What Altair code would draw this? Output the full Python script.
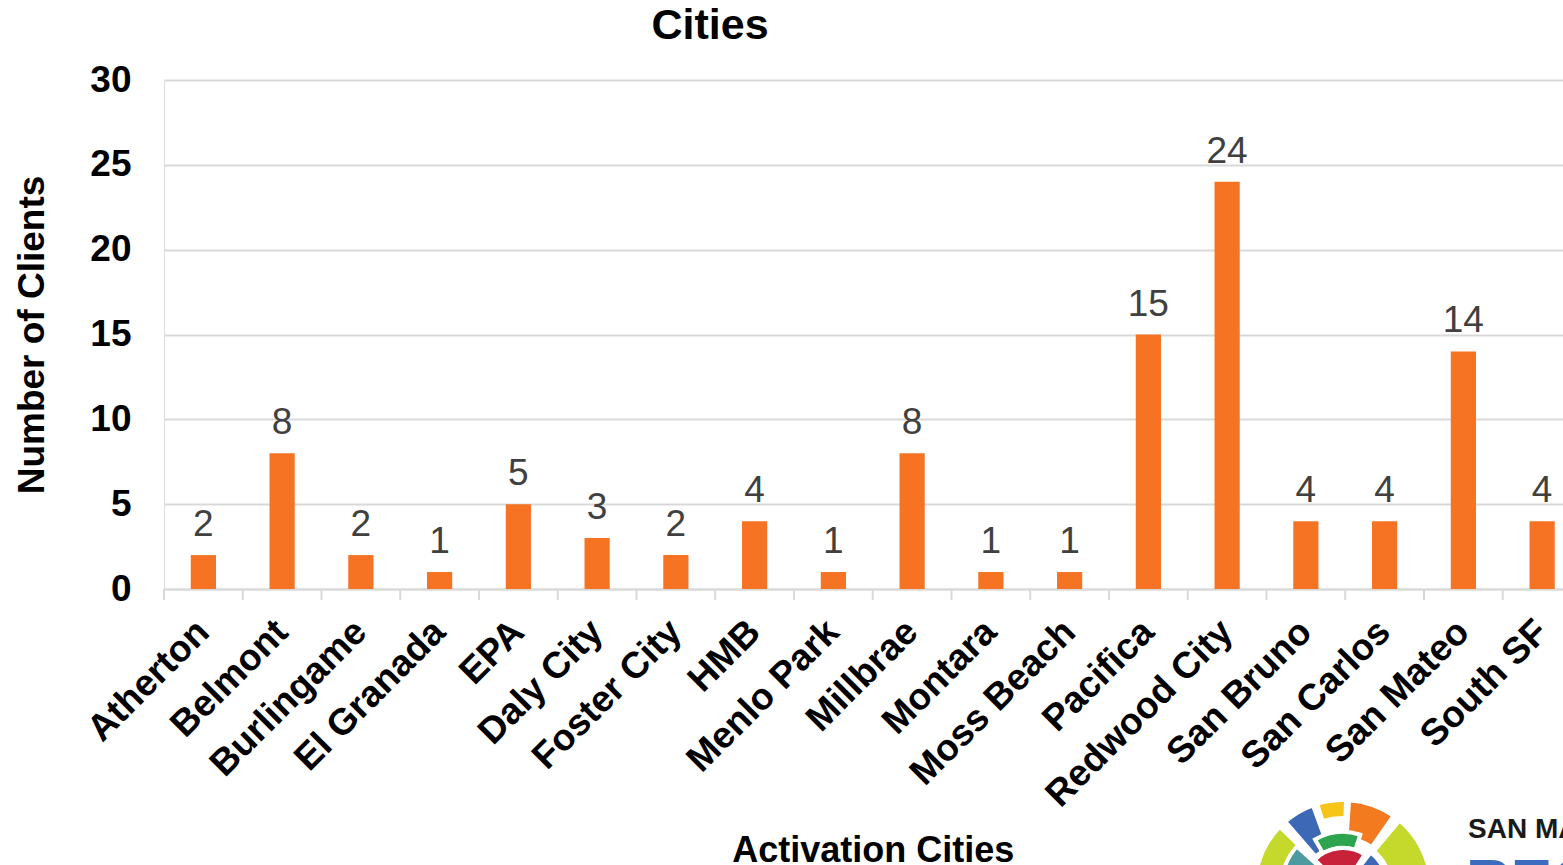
import altair as alt
import pandas as pd

# Clients per activation city
cities = ["Atherton", "Belmont", "Burlingame", "El Granada", "EPA", "Daly City",
          "Foster City", "HMB", "Menlo Park", "Millbrae", "Montara", "Moss Beach",
          "Pacifica", "Redwood City", "San Bruno", "San Carlos", "San Mateo", "South SF"]
clients = [2, 8, 2, 1, 5, 3, 2, 4, 1, 8, 1, 1, 15, 24, 4, 4, 14, 4]

# Logo segments (degrees clockwise from top, radii in px)
seg_start = [-80, -41, -17, 4, 40, -30, -45, -70, 38]
seg_end = [-46, -20, 2, 35, 85, 18, 33, -48, 75]
seg_inner = [55, 42, 70, 50, 48, 40, 8, 20, 12]
seg_outer = [88, 88, 88, 88, 88, 56, 40, 62, 45]
seg_color = ["#c5d92d", "#3c68b5", "#f6c518", "#f47a20", "#c5d92d",
             "#2ea44f", "#c8213a", "#4d9aa0", "#3c68b5"]

FONT = "Liberation Sans"
BAR = "#F57322"
GRID = "#d9d9d9"

df = pd.DataFrame({"city": cities, "clients": clients})
logo = pd.DataFrame({"a0": seg_start, "a1": seg_end, "r0": seg_inner,
                     "r1": seg_outer, "c": seg_color})

x_scale = alt.Scale(range=[0, 1417.5], paddingInner=0.68, paddingOuter=0.34)

x_enc = alt.X(
    "city:N", sort=cities, title="Activation Cities", scale=x_scale,
    axis=alt.Axis(
        labelAngle=-45, labelAlign="right", labelBaseline="middle",
        labelFont=FONT, labelFontSize=37, labelFontWeight="bold", labelColor="black",
        labelPadding=37, labelOverlap=False, labelLimit=0,
        domainColor=GRID, domainWidth=2, ticks=False,
        titleFont=FONT, titleFontSize=36, titleFontWeight="bold", titleColor="black",
        titleX=708.75, titleY=272, titleAlign="center", titleBaseline="alphabetic",
    ),
)
y_enc = alt.Y(
    "clients:Q", title="Number of Clients",
    scale=alt.Scale(domain=[0, 30], nice=False),
    axis=alt.Axis(
        values=[0, 5, 10, 15, 20, 25, 30], grid=True, gridColor=GRID, gridWidth=2,
        domain=False, ticks=False,
        labelFont=FONT, labelFontSize=37, labelFontWeight="bold", labelColor="black",
        labelPadding=33,
        titleFont=FONT, titleFontSize=37, titleFontWeight="bold", titleColor="black",
        titleAngle=-90, titleX=-132, titleY=254.5, titleAlign="center",
        titleBaseline="middle",
    ),
)

bars = alt.Chart(df).mark_bar(color=BAR).encode(x=x_enc, y=y_enc)

# category separators under the baseline, at the band boundaries
separators = alt.Chart(df).mark_rule(color=GRID, strokeWidth=2, xOffset=-26.8).encode(
    x=alt.X("city:N", sort=cities, bandPosition=0),
    y=alt.value(509), y2=alt.value(520),
)

values = alt.Chart(df).mark_text(
    font=FONT, fontSize=37, color="#404040", dy=-19, baseline="alphabetic"
).encode(x=alt.X("city:N", sort=cities), y="clients:Q", text="clients:Q")

title = alt.Chart(pd.DataFrame({"t": ["Cities"]})).mark_text(
    font=FONT, fontSize=43, fontWeight="bold", color="black",
    align="center", baseline="alphabetic",
).encode(x=alt.value(546), y=alt.value(-41), text="t:N")

logo_arcs = alt.Chart(logo).transform_calculate(
    t0="datum.a0 * PI / 180", t1="datum.a1 * PI / 180"
).mark_arc(stroke="white", strokeWidth=4).encode(
    theta=alt.Theta("t0:Q", scale=None), theta2="t1:Q",
    radius=alt.Radius("r1:Q", scale=None), radius2="r0:Q",
    color=alt.Color("c:N", scale=None),
    x=alt.value(1179), y=alt.value(808),
)
logo_name = alt.Chart(pd.DataFrame({"t": ["SAN MATEO COUNTY"]})).mark_text(
    font=FONT, fontSize=28, fontWeight="bold", color="#1a1a1a",
    align="left", baseline="alphabetic",
).encode(x=alt.value(1304), y=alt.value(758), text="t:N")
logo_word = alt.Chart(pd.DataFrame({"t": ["RECOVERY"]})).mark_text(
    font=FONT, fontSize=62, fontWeight="bold", color="#3c6cc0",
    align="left", baseline="alphabetic",
).encode(x=alt.value(1302), y=alt.value(822), text="t:N")

chart = alt.layer(bars, separators, values, title, logo_arcs, logo_name, logo_word).properties(
    width=1399, height=509,
    autosize=alt.AutoSizeParams(type="none"),
    padding={"left": 164, "top": 80, "right": 0, "bottom": 276},
).configure_view(stroke=None).configure(background="white")

chart.save("out.html", embed_options={"renderer": "svg", "actions": False})
